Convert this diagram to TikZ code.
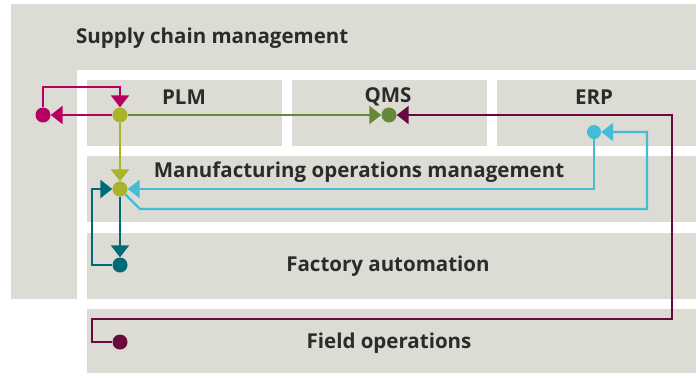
\documentclass[tikz,border=0pt]{standalone}
\usepackage{fontspec}
\setmainfont{Open Sans}
\usetikzlibrary{arrows.meta,positioning}

\definecolor{panelgrey}{HTML}{DCDBD4}
\definecolor{textgrey}{HTML}{2B2B2B}
\definecolor{scmmagenta}{HTML}{B80062}
\definecolor{plmlime}{HTML}{A8B32A}
\definecolor{qmsolive}{HTML}{66883A}
\definecolor{fieldmaroon}{HTML}{680A3C}
\definecolor{erpcyan}{HTML}{45BCD6}
\definecolor{factteal}{HTML}{006B77}

\begin{document}
\begin{tikzpicture}[x=1pt,y=-1pt,
    panel/.style={fill=panelgrey, draw=none, inner sep=0pt, anchor=north west},
    lbl/.style={text=textgrey, font=\bfseries\fontsize{20.5}{22}\selectfont, inner sep=0pt},
    dot/.style={circle, inner sep=0pt, minimum size=15pt, draw=none},
    flow/.style={line width=2.4pt, -{Triangle[width=18pt,length=12pt]}}]
    \useasboundingbox (0,0) rectangle (696,373);

    % supply chain frame
    \fill[panelgrey] (11,4) rectangle (696,299);
    \fill[white] (77,70) rectangle (696,299);
    \node[lbl, anchor=west] (scm) at (76,38) {Supply chain management};

    % level panels
    \node[panel, minimum width=195pt, minimum height=66pt] (plm) at (87,80) {};
    \node[panel, minimum width=195pt, minimum height=66pt] (qms) at (292,80) {};
    \node[panel, minimum width=199pt, minimum height=66pt] (erp) at (497,80) {};
    \node[panel, minimum width=609pt, minimum height=66pt] (mom) at (87,156) {};
    \node[panel, minimum width=609pt, minimum height=66pt] (fac) at (87,233) {};
    \node[panel, minimum width=609pt, minimum height=64pt] (fop) at (87,309) {};

    \node[lbl] (plmtext) at (184,97) {PLM};
    \node[lbl] (qmstext) at (388,97) {QMS};
    \node[lbl] (erptext) at (594,97) {ERP};
    \node[lbl] (momtext) at (359,172) {Manufacturing operations management};
    \node[lbl] (factext) at (388,266) {Factory automation};
    \node[lbl] (foptext) at (389,343) {Field operations};

    % dots
    \node[dot, fill=scmmagenta] (scmdot) at (43,115) {};
    \node[dot, fill=plmlime] (plmdot) at (120,115) {};
    \node[dot, fill=qmsolive] (qmsdot) at (389,115) {};
    \node[dot, fill=erpcyan, minimum size=14pt] (erpdot) at (594,132) {};
    \node[dot, fill=plmlime] (momdot) at (120,189) {};
    \node[dot, fill=factteal] (facdot) at (120,265) {};
    \node[dot, fill=fieldmaroon] (fopdot) at (120,342) {};

    % bend points
    \coordinate (magtop) at (120,87);
    \coordinate (fo1) at (92,319);
    \coordinate (fo2) at (672,115);
    \coordinate (cy1) at (140,209);
    \coordinate (cy2) at (647,209);
    \coordinate (ta) at (92,189);

    % connectors
    \draw[flow, scmmagenta] (plmdot) -- (scmdot);
    \draw[flow, scmmagenta] (scmdot) |- (magtop) -- (plmdot);
    \draw[flow, qmsolive] (plmdot) -- (qmsdot);
    \draw[flow, plmlime] (plmdot) -- (momdot);
    \draw[flow, fieldmaroon] (fopdot) -| (fo1) -| (fo2) -- (qmsdot);
    \draw[flow, erpcyan] (erpdot) |- (momdot);
    \draw[flow, erpcyan] (momdot) -- (cy1) -- (cy2) |- (erpdot);
    \draw[flow, factteal] (momdot) -- (facdot);
    \draw[flow, factteal] (facdot) -| (ta) -- (momdot);
\end{tikzpicture}
\end{document}
